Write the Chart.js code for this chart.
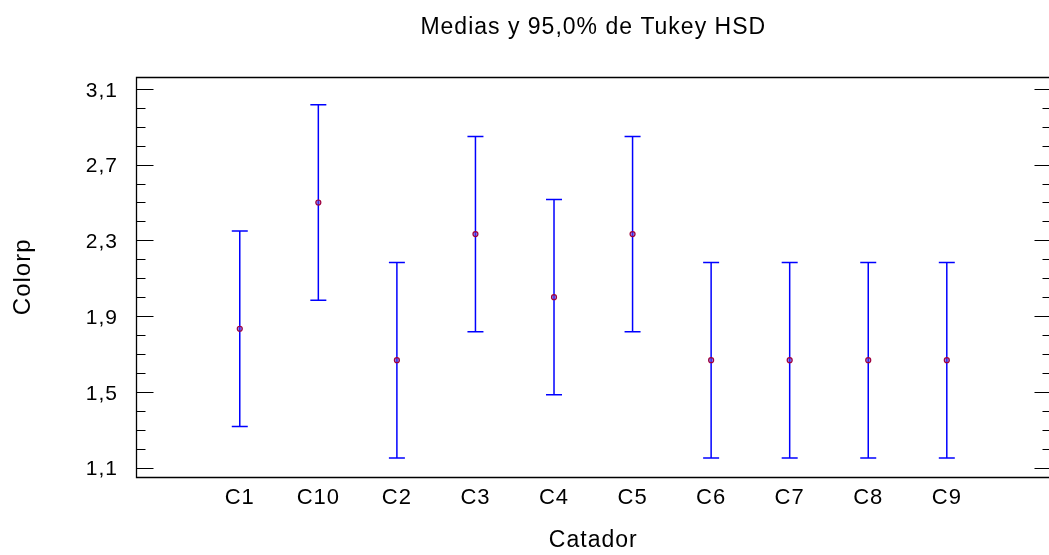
<!DOCTYPE html>
<html><head><meta charset="utf-8">
<script src="https://cdn.jsdelivr.net/npm/chart.js@4/dist/chart.umd.min.js"></script>
<style>html,body{margin:0;padding:0;background:#fff;overflow:hidden}canvas{display:block}</style>
</head><body>
<canvas id="c" width="1060" height="555"></canvas>
<script>
const categories = ['C1','C10','C2','C3','C4','C5','C6','C7','C8','C9'];
const means = [1.833, 2.5, 1.667, 2.333, 2.0, 2.333, 1.667, 1.667, 1.667, 1.667];
const lower = [1.317, 1.984, 1.151, 1.817, 1.484, 1.817, 1.151, 1.151, 1.151, 1.151];
const upper = [2.349, 3.016, 2.183, 2.849, 2.516, 2.849, 2.183, 2.183, 2.183, 2.183];
const yTickValues = [1.1,1.2,1.3,1.4,1.5,1.6,1.7,1.8,1.9,2.0,2.1,2.2,2.3,2.4,2.5,2.6,2.7,2.8,2.9,3.0,3.1];
const yTickLabels = ['1,1','1,5','1,9','2,3','2,7','3,1'];

const FONT = "'Liberation Sans', Arial, sans-serif";

const stemData = [];
const capData = [];
const meanData = [];
categories.forEach((c, i) => {
  stemData.push({x: i + 1, y: lower[i]}, {x: i + 1, y: upper[i]}, {x: i + 1, y: null});
  capData.push({x: i + 1, y: lower[i]}, {x: i + 1, y: upper[i]});
  meanData.push({x: i + 1, y: means[i]});
});

const spacingPlugin = {
  id: 'spacing',
  beforeUpdate(chart) { chart.ctx.letterSpacing = '1px'; },
  beforeDraw(chart) { chart.ctx.letterSpacing = '1px'; }
};

const framePlugin = {
  id: 'frame',
  afterDraw(chart) {
    const ctx = chart.ctx;
    const a = chart.chartArea;
    const L = Math.round(a.left) + 0.5, R = Math.round(a.right) + 0.5;
    const T = Math.round(a.top) + 0.5, B = Math.round(a.bottom) + 0.5;
    ctx.save();
    ctx.strokeStyle = '#000';
    ctx.lineWidth = 1.3;
    ctx.beginPath();
    ctx.rect(L, T, R - L, B - T);
    ctx.stroke();
    ctx.lineWidth = 1;
    const ys = chart.scales.y;
    ys.ticks.forEach((t, i) => {
      const y = Math.round(ys.getPixelForValue(t.value)) + 0.5;
      const len = (i % 4 === 0) ? 17 : 9;
      ctx.beginPath();
      ctx.moveTo(L, y); ctx.lineTo(L + len, y);
      ctx.moveTo(R, y); ctx.lineTo(R - len, y);
      ctx.stroke();
    });
    ctx.restore();
  }
};

new Chart(document.getElementById('c'), {
  type: 'scatter',
  data: {
    datasets: [
      {
        label: 'Medias',
        data: meanData,
        pointStyle: 'circle',
        pointRadius: 2.5,
        borderWidth: 1.2,
        borderColor: '#a0003c',
        backgroundColor: 'rgba(90,60,220,0.6)'
      },
      {
        label: 'caps',
        data: capData,
        pointStyle: 'line',
        pointRadius: 8,
        borderWidth: 1.5,
        borderColor: '#0000ff',
        backgroundColor: '#0000ff'
      },
      {
        label: 'stems',
        data: stemData,
        showLine: true,
        spanGaps: false,
        pointRadius: 0,
        borderWidth: 1.5,
        borderColor: '#0000ff',
        backgroundColor: '#0000ff'
      }
    ]
  },
  options: {
    responsive: false,
    animation: false,
    devicePixelRatio: 1,
    layout: {padding: {left: 0, right: 7, top: 0, bottom: 0}},
    plugins: {
      legend: {display: false},
      tooltip: {enabled: false},
      title: {
        display: true,
        text: 'Medias y 95,0% de Tukey HSD',
        fullSize: false,
        color: '#000',
        font: {family: FONT, size: 23, weight: 'normal'},
        padding: {top: 14, bottom: 35}
      }
    },
    scales: {
      x: {
        type: 'linear',
        min: -0.321,
        max: 11.32,
        afterBuildTicks: s => { s.ticks = categories.map((c, i) => ({value: i + 1})); },
        afterFit: s => { s.height = 78; },
        grid: {display: false, drawTicks: false},
        border: {display: false},
        ticks: {
          autoSkip: false, maxRotation: 0, minRotation: 0,
          padding: 8,
          color: '#000',
          font: {family: FONT, size: 22},
          callback: (v, i) => categories[i]
        },
        title: {
          display: true, text: 'Catador', color: '#000',
          font: {family: FONT, size: 23},
          padding: {top: 0, bottom: 1}
        }
      },
      y: {
        type: 'linear',
        min: 1.05,
        max: 3.165,
        afterBuildTicks: s => { s.ticks = yTickValues.map(v => ({value: v})); },
        afterFit: s => { s.width = 136; },
        grid: {display: false, drawTicks: false},
        border: {display: false},
        ticks: {
          autoSkip: false,
          padding: 18,
          labelOffset: 2,
          color: '#000',
          font: {family: FONT, size: 21},
          callback: (v, i) => (i % 4 === 0 ? yTickLabels[i / 4] : '')
        },
        title: {
          display: true, text: 'Colorp', color: '#000',
          font: {family: FONT, size: 24},
          padding: {top: 9, bottom: 0}
        }
      }
    }
  },
  plugins: [spacingPlugin, framePlugin]
});
</script>
</body></html>
